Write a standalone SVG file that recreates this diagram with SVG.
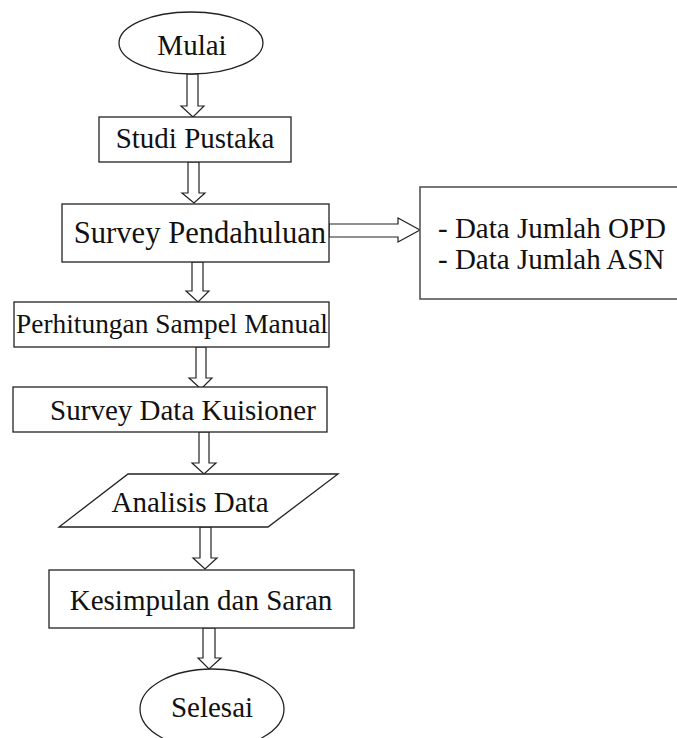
<svg xmlns="http://www.w3.org/2000/svg" width="677" height="738" viewBox="0 0 677 738">
<style>
.s{fill:#fff;stroke:#222;stroke-width:1.3}
.d{fill:#fff;stroke:#555;stroke-width:1.6}
text{font-family:'Liberation Serif','Times New Roman',Tinos,serif;font-size:29px;fill:#111}
.m{text-anchor:middle}
.a{fill:#fff;stroke:#222;stroke-width:1.2;stroke-linejoin:miter}
</style>
<rect width="677" height="738" fill="#fff"/>
<g id="connectors">
<polygon class="a" points="187,74 198,74 198,106 204,106 193,117 181,106 187,106"/>
<polygon class="a" points="188,162 199,162 199,193 205,193 194,203 182,193 188,193"/>
<polygon class="a" points="329,224 398,224 398,218 420,230 398,242 398,237 329,237"/>
<polygon class="a" points="192,262 203,262 203,291 209,291 198,302 186,291 192,291"/>
<polygon class="a" points="196,347 206,347 206,378 212,378 201,389 189,378 196,378"/>
<polygon class="a" points="199,432 209,432 209,463 216,463 204,474 192,463 199,463"/>
<polygon class="a" points="200,527 211,527 211,558 217,558 205,569 193,558 200,558"/>
<polygon class="a" points="203,628 215,628 215,658 221,658 209,669 198,658 203,658"/>
</g>
<g id="mulai">
<ellipse class="s" cx="191" cy="43" rx="72" ry="31"/>
<text class="m" x="192" y="55">Mulai</text>
</g>
<g id="studi-pustaka">
<rect class="s" x="99" y="117" width="192" height="45"/>
<text class="m" x="195" y="148">Studi Pustaka</text>
</g>
<g id="survey-pendahuluan">
<rect class="s" x="62" y="204" width="267" height="58"/>
<text class="m" x="200" y="243" style="font-size:30.6px">Survey Pendahuluan</text>
</g>
<g id="data">
<rect class="d" x="420" y="187" width="270" height="112"/>
<text x="438" y="238">- Data Jumlah OPD</text>
<text x="438" y="269">- Data Jumlah ASN</text>
</g>
<g id="perhitungan">
<rect class="s" x="14" y="302" width="315" height="45"/>
<text class="m" x="172" y="333" style="font-size:27.4px">Perhitungan Sampel Manual</text>
</g>
<g id="survey-data">
<rect class="s" x="13" y="387" width="314" height="45"/>
<text class="m" x="183" y="420">Survey Data Kuisioner</text>
</g>
<g id="analisis">
<polygon class="s" points="128,474 338,474 268,527 59,527"/>
<text class="m" x="190" y="512">Analisis Data</text>
</g>
<g id="kesimpulan">
<rect class="s" x="49" y="570" width="305" height="58"/>
<text class="m" x="201" y="610">Kesimpulan dan Saran</text>
</g>
<g id="selesai">
<ellipse class="s" cx="212" cy="709" rx="72" ry="40"/>
<text class="m" x="212" y="717">Selesai</text>
</g>
</svg>
